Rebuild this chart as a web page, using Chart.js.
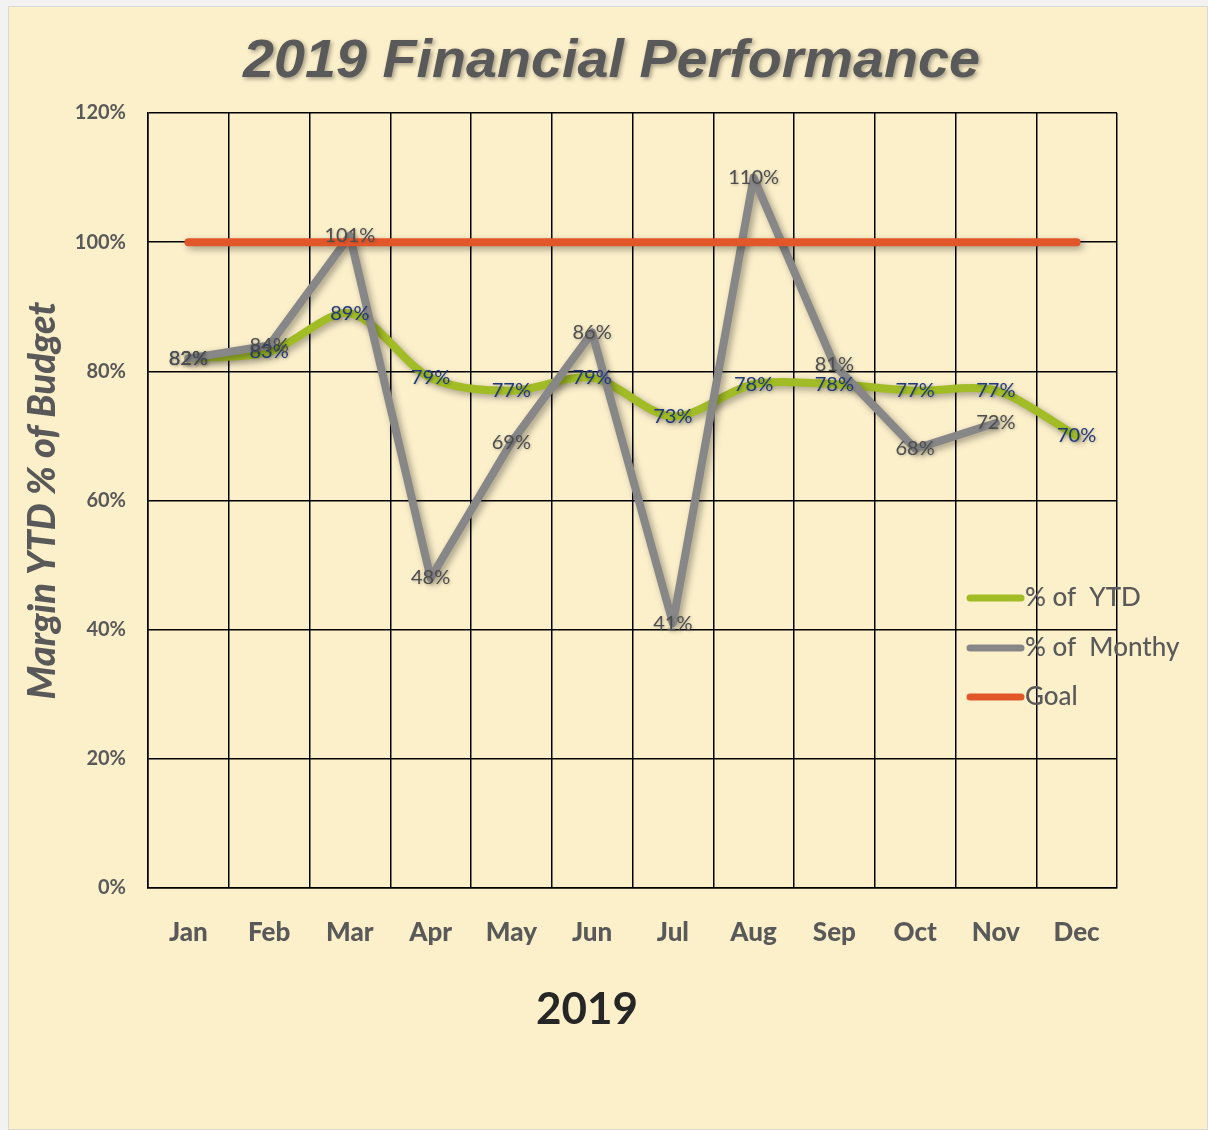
<!DOCTYPE html>
<html>
<head>
<meta charset="utf-8">
<script src="https://cdn.jsdelivr.net/npm/chart.js@4.4.1/dist/chart.umd.min.js"></script>
<style>
  html, body { margin: 0; padding: 0; background: #fff; }
  #wrap { position: absolute; left: 0; top: 0; width: 1208px; height: 1130px; }
</style>
</head>
<body>
<div id="wrap"><canvas id="chart" width="1208" height="1130"></canvas></div>
<script>
// ─── Data ──────────────────────────────────────────────────────────────────────
const months = ["Jan", "Feb", "Mar", "Apr", "May", "Jun", "Jul", "Aug", "Sep", "Oct", "Nov", "Dec"];
const ytd = [82, 83, 89, 79, 77, 79, 73, 78, 78, 77, 77, 70];
const monthly = [82, 84, 101, 48, 69, 86, 41, 110, 81, 68, 72, null];
const goal = [100, 100, 100, 100, 100, 100, 100, 100, 100, 100, 100, 100];
const yTicks = [0, 20, 40, 60, 80, 100, 120];

const BG = "#FCF0CB";
const GREY_TEXT = "#595959";

// ─── Plugins ───────────────────────────────────────────────────────────────────
const background = {
  id: "background",
  beforeDraw(chart) {
    const c = chart.ctx;
    c.save();
    c.fillStyle = "#f2f2f2";
    c.fillRect(0, 0, chart.width, chart.height);
    c.fillStyle = BG;
    c.fillRect(8, 6, chart.width - 8, chart.height - 6);
    c.strokeStyle = "#d9d9d9";
    c.lineWidth = 1;
    c.strokeRect(8.5, 6.5, chart.width - 9, chart.height - 7);
    c.restore();
  }
};

// drop shadow under each line
const lineShadow = {
  id: "lineShadow",
  beforeDatasetDraw(chart) {
    const c = chart.ctx;
    c.save();
    c.shadowColor = "rgba(0,0,0,0.35)";
    c.shadowBlur = 7;
    c.shadowOffsetX = 3;
    c.shadowOffsetY = 3;
  },
  afterDatasetDraw(chart) {
    chart.ctx.restore();
  }
};

// value labels centred on points
const valueLabels = {
  id: "valueLabels",
  afterDatasetsDraw(chart) {
    const c = chart.ctx;
    c.save();
    c.font = "20px Lato";
    c.textAlign = "center";
    c.textBaseline = "middle";
    c.shadowColor = "rgba(0,0,0,0.25)";
    c.shadowBlur = 3;
    c.shadowOffsetX = 1;
    c.shadowOffsetY = 1;
    chart.data.datasets.forEach((ds, i) => {
      if (!ds.labelColor) return;
      const meta = chart.getDatasetMeta(i);
      meta.data.forEach((pt, j) => {
        const v = ds.data[j];
        if (v == null) return;
        c.fillStyle = ds.labelColor;
        c.fillText(v + "%", pt.x, pt.y);
      });
    });
    c.restore();
  }
};

// title, x title and legend inside the plot
const decorations = {
  id: "decorations",
  afterDraw(chart) {
    const c = chart.ctx;
    c.save();
    c.font = "italic bold 54px 'Liberation Sans'";
    c.textBaseline = "middle";
    c.textAlign = "left";
    const t = "2019 Financial Performance";
    const sx = 737 / c.measureText(t).width;
    c.translate(243, 62);
    c.scale(sx, 1);
    c.shadowColor = "rgba(0,0,0,0.35)";
    c.shadowBlur = 4;
    c.shadowOffsetX = 2;
    c.shadowOffsetY = 2;
    c.fillStyle = GREY_TEXT;
    c.fillText(t, 0, 0);
    c.restore();

    c.save();
    c.font = "bold 44px Lato";
    c.fillStyle = "#262626";
    c.textAlign = "center";
    c.textBaseline = "middle";
    c.fillText("2019", 587, 1010);
    c.restore();

    c.save();
    const ys = [598, 648, 697];
    chart.data.datasets.forEach((ds, i) => {
      const y = ys[i];
      c.strokeStyle = ds.borderColor;
      c.lineWidth = 7;
      c.lineCap = "round";
      c.beginPath();
      c.moveTo(970, y);
      c.lineTo(1021, y);
      c.stroke();
      c.font = "500 26px Lato";
      c.fillStyle = GREY_TEXT;
      c.textAlign = "left";
      c.textBaseline = "middle";
      c.fillText(ds.label, 1025, y);
    });
    c.restore();
  }
};

// ─── Chart ─────────────────────────────────────────────────────────────────────
new Chart(document.getElementById("chart"), {
  type: "line",
  data: {
    labels: months,
    datasets: [
      {
        label: "% of  YTD",
        data: ytd,
        borderColor: "#A2BC26",
        borderWidth: 8,
        tension: 0.3,
        pointRadius: 0,
        borderCapStyle: "round",
        borderJoinStyle: "round",
        labelColor: "#1F3A78",
        order: 2
      },
      {
        label: "% of  Monthy",
        data: monthly,
        borderColor: "#878787",
        borderWidth: 8,
        tension: 0,
        pointRadius: 0,
        borderCapStyle: "round",
        borderJoinStyle: "round",
        labelColor: "#4d4d4d",
        order: 1
      },
      {
        label: "Goal",
        data: goal,
        borderColor: "#E2572A",
        borderWidth: 8,
        tension: 0,
        pointRadius: 0,
        borderCapStyle: "round",
        order: 0
      }
    ]
  },
  options: {
    responsive: false,
    animation: false,
    layout: { padding: { left: 8, right: 91, top: 113, bottom: 0 } },
    plugins: {
      legend: { display: false },
      title: { display: false },
      tooltip: { enabled: false }
    },
    scales: {
      x: {
        offset: true,
        grid: { offset: true, color: "#000", lineWidth: 1.5, drawTicks: false },
        border: { color: "#000", width: 1.5 },
        ticks: { color: GREY_TEXT, font: { family: "Lato", size: 26, weight: "900" }, padding: 29 },
        afterFit: (s) => { s.height = 242; }
      },
      y: {
        min: 0,
        max: 120,
        afterBuildTicks: (s) => { s.ticks = yTicks.map(v => ({ value: v })); },
        grid: { color: "#000", lineWidth: 1.5, drawTicks: false },
        border: { color: "#000", width: 1.5 },
        ticks: {
          color: GREY_TEXT,
          font: { family: "Lato", size: 20, weight: "bold" },
          padding: 22,
          callback: v => v + "%"
        },
        title: {
          display: true,
          text: "Margin YTD % of Budget",
          color: GREY_TEXT,
          font: { family: "Lato", size: 38, weight: "900", style: "italic" },
          padding: { top: 12, bottom: 0 }
        },
        afterFit: (s) => { s.width = 140; }
      }
    }
  },
  plugins: [background, lineShadow, valueLabels, decorations]
});
</script>
</body>
</html>
